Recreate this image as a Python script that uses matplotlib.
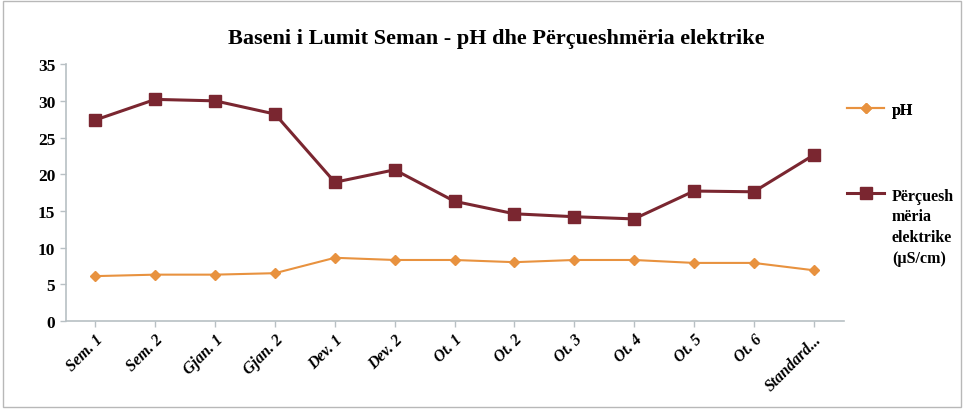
import matplotlib
matplotlib.use("Agg")
import matplotlib.pyplot as plt
from matplotlib.patches import Rectangle

categories = ["Sem. 1", "Sem. 2", "Gjan. 1", "Gjan. 2", "Dev. 1", "Dev. 2",
              "Ot. 1", "Ot. 2", "Ot. 3", "Ot. 4", "Ot. 5", "Ot. 6", "Standard..."]
ph = [6.1, 6.3, 6.3, 6.5, 8.6, 8.3, 8.3, 8.0, 8.3, 8.3, 7.9, 7.9, 6.9]
conductivity = [27.4, 30.2, 30.0, 28.2, 18.9, 20.6, 16.3, 14.6, 14.2, 13.9, 17.7, 17.6, 22.6]
yticks = [0, 5, 10, 15, 20, 25, 30, 35]

plt.rcParams['font.family'] = ['Liberation Serif', 'DejaVu Serif']
fig = plt.figure(figsize=(9.64, 4.10), dpi=100)
ax = fig.add_axes([0.068, 0.215, 0.807, 0.626])

x = list(range(len(categories)))
l1, = ax.plot(x, ph, color="#E8923F", marker="D", markersize=5, linewidth=1.5, label="pH")
l2, = ax.plot(x, conductivity, color="#7A2630", marker="s", markersize=8, linewidth=2.2,
              label="Përçuesh\nmëria\nelektrike\n(µS/cm)")

ax.set_xlim(-0.5, len(categories) - 0.5)
ax.set_ylim(0, 35)
ax.set_yticks(yticks)
ax.set_yticklabels([str(v) for v in yticks], fontsize=12.5, fontweight="bold")
ax.set_xticks(x)
ax.set_xticklabels(categories, rotation=45, ha="right", rotation_mode="anchor",
                   fontsize=11.5, fontweight="bold", style="italic")
for s in ["top", "right"]:
    ax.spines[s].set_visible(False)
for s in ["left", "bottom"]:
    ax.spines[s].set_color("#B8C0C4")
    ax.spines[s].set_linewidth(1.2)
ax.tick_params(axis="both", colors="#B8C0C4", length=4, width=1)
ax.tick_params(axis="both", labelcolor="black")

fig.text(0.515, 0.905, "Baseni i Lumit Seman - pH dhe Përçueshmëria elektrike",
         ha="center", va="center", fontsize=16, fontweight="bold")

leg1 = fig.legend(handles=[l1], loc="upper left", bbox_to_anchor=(0.864, 0.785),
                  frameon=False, handlelength=2.3, handletextpad=0.5,
                  prop={"weight": "bold", "size": 11.5})
leg2 = fig.legend(handles=[l2], loc="upper left", bbox_to_anchor=(0.864, 0.575),
                  frameon=False, handlelength=2.3, handletextpad=0.5,
                  prop={"weight": "bold", "size": 11.5})
for t in leg2.get_texts():
    t.set_linespacing(1.4)
try:
    item = leg2._legend_handle_box.get_children()[0].get_children()[0]
    item.align = "top"
except Exception:
    pass
fig.add_artist(leg1)

fig.patches.append(Rectangle((0.003, 0.005), 0.994, 0.99, transform=fig.transFigure,
                             fill=False, edgecolor="#B8B8B8", linewidth=1))

fig.savefig("out.png", dpi=100)
